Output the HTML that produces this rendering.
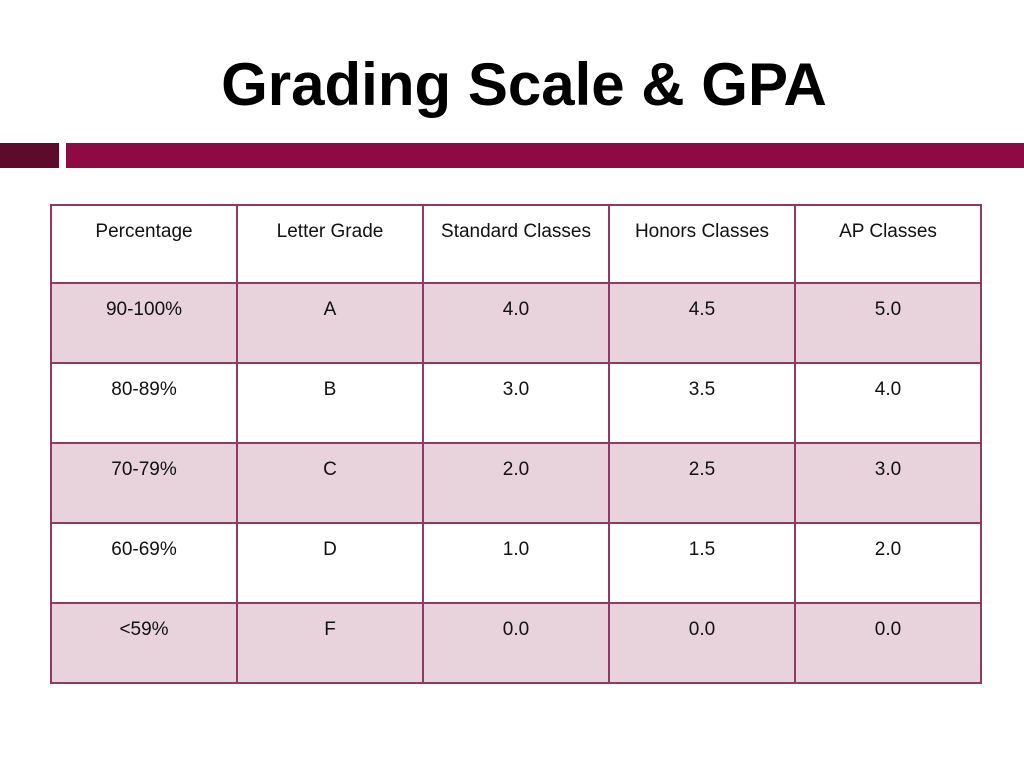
<!DOCTYPE html>
<html><head><style>
body{margin:0;width:1024px;height:768px;background:#fff;position:relative;overflow:hidden;font-family:"Liberation Sans",sans-serif}
h1{position:absolute;left:0;width:1048px;top:50px;margin:0;text-align:center;font-size:60px;font-weight:bold;color:#000}
.bar{position:absolute;top:143px;height:25px}
table{position:absolute;left:50px;top:204px;border-collapse:collapse;width:932px}
td{border:2px solid #8e3a62;width:186px;height:76px;vertical-align:top;text-align:center;font-size:19px;padding:10px 4px 0;line-height:31px;color:#111;box-sizing:border-box}
tr.p td{background:#e8d2dc}
tr.h td{height:78px}
tr:not(.h) td{height:80px}
</style></head><body>
<h1>Grading Scale &amp; GPA</h1>
<div class="bar" style="left:0;width:59px;background:#5e0a2a"></div>
<div class="bar" style="left:66px;width:958px;background:#8e0a45"></div>
<table>
<tr class="h"><td>Percentage</td><td>Letter Grade</td><td>Standard Classes</td><td>Honors Classes</td><td>AP Classes</td></tr>
<tr class="p"><td>90-100%</td><td>A</td><td>4.0</td><td>4.5</td><td>5.0</td></tr>
<tr><td>80-89%</td><td>B</td><td>3.0</td><td>3.5</td><td>4.0</td></tr>
<tr class="p"><td>70-79%</td><td>C</td><td>2.0</td><td>2.5</td><td>3.0</td></tr>
<tr><td>60-69%</td><td>D</td><td>1.0</td><td>1.5</td><td>2.0</td></tr>
<tr class="p"><td>&lt;59%</td><td>F</td><td>0.0</td><td>0.0</td><td>0.0</td></tr>
</table>
</body></html>
